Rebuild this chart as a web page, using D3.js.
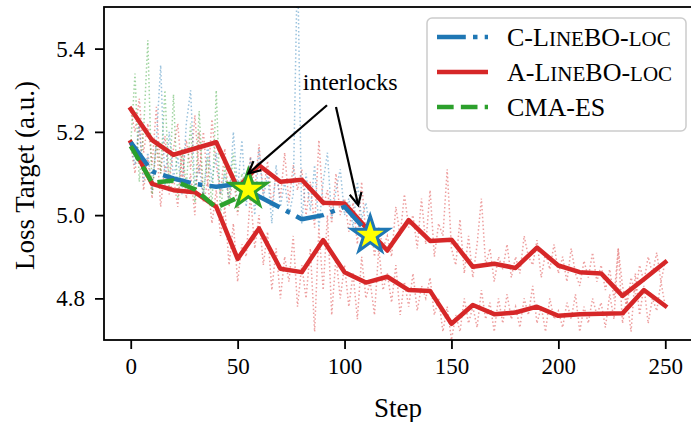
<!DOCTYPE html>
<html>
<head>
<meta charset="utf-8">
<script src="https://cdn.jsdelivr.net/npm/d3@7"></script>
<style>
  body { margin: 0; background: #fff; }
  text { font-family: 'Liberation Serif', 'Times New Roman', serif; fill: #000; }
</style>
</head>
<body>
<div id="chart"></div>
<script>
'use strict'

var width = 691
var height = 422

// ---- data ----
// thick lines, one point every 10 steps
var redSteps = [0, 10, 20, 30, 40, 50, 60, 70, 80, 90, 100, 110, 120, 130, 140, 150, 160, 170, 180, 190, 200, 210, 220, 230, 240, 250]
var redUpper = [5.255, 5.18, 5.145, 5.16, 5.175, 5.065, 5.12, 5.08, 5.085, 5.03, 5.028, 4.97, 4.915, 4.988, 4.938, 4.941, 4.876, 4.883, 4.873, 4.922, 4.879, 4.863, 4.86, 4.806, 4.846, 4.887]
var redLower = [5.175, 5.075, 5.06, 5.055, 5.02, 4.895, 4.968, 4.871, 4.863, 4.94, 4.863, 4.838, 4.852, 4.82, 4.818, 4.739, 4.784, 4.762, 4.766, 4.78, 4.758, 4.762, 4.763, 4.764, 4.82, 4.782]
var blueSteps = [0, 10, 20, 30, 40, 50, 60, 70, 80, 90, 100, 112]
var blueVals = [5.175, 5.105, 5.088, 5.075, 5.068, 5.075, 5.045, 5.018, 4.99, 5.0, 5.02, 4.952]
var greenSteps = [0, 10, 20, 30, 40, 50, 55]
var greenVals = [5.166, 5.078, 5.083, 5.062, 5.018, 5.042, 5.062]

// raw (noisy) traces, one point every 2 steps
var greenRaw = [5.17, 5.34, 5.08, 5.20, 5.42, 5.05, 5.18, 5.10, 5.30, 5.06, 5.29, 5.04, 5.16, 5.07, 5.22, 5.03,
  5.25, 5.05, 5.14, 5.02, 5.30, 5.00, 5.12, 5.03, 5.15, 5.01, 5.10, 5.06]
var blueRaw = [5.17, 5.12, 5.22, 5.08, 5.15, 5.06, 5.18, 5.36, 5.07, 5.20, 5.09, 5.14, 5.05, 5.22, 5.30, 5.06,
  5.12, 5.04, 5.17, 5.08, 5.15, 5.05, 5.10, 5.03, 5.20, 5.06, 5.18, 5.02, 5.14, 5.00, 5.16, 5.04,
  5.10, 4.98, 5.12, 5.02, 5.08, 5.00, 5.05, 5.62, 4.98, 5.10, 5.01, 5.12, 4.97, 5.08, 5.15, 4.99,
  5.06, 5.11, 5.00, 5.04, 4.97, 5.08, 4.99, 5.03, 4.96]
var redRawUpper = [5.25, 5.20, 5.28, 5.15, 5.22, 5.12, 5.26, 5.10, 5.19, 5.08, 5.16,
  5.22, 5.09, 5.18, 5.11, 5.24, 5.10, 5.20, 5.07, 5.23, 5.12,
  5.05, 5.16, 5.02, 5.10, 5.00, 5.08, 5.04, 5.14, 5.06, 5.17,
  5.05, 5.13, 5.02, 5.10, 5.04, 5.15, 5.03, 5.12, 5.06, 5.11,
  5.00, 5.08, 4.97, 5.18, 5.02, 5.06, 4.98, 5.10, 5.00, 5.04,
  4.96, 5.03, 4.93, 5.08, 4.95, 5.00, 4.90, 4.97, 4.92, 4.95,
  4.90, 5.02, 4.95, 5.05, 4.97, 5.00, 4.92, 5.04, 4.93, 5.06,
  4.90, 4.98, 4.95, 5.11, 4.92, 4.88, 4.99, 4.86, 4.95, 4.85,
  4.93, 5.04, 4.88, 4.92, 4.84, 4.90, 4.87, 4.93, 4.85, 4.90,
  4.86, 4.95, 4.90, 4.88, 4.94, 4.85, 4.91, 4.87, 4.93, 4.86,
  4.90, 4.84, 4.92, 4.86, 4.83, 4.89, 4.85, 4.91, 4.84, 4.88,
  4.82, 4.87, 4.80, 4.92, 4.83, 4.78, 4.85, 4.81, 4.88, 4.84,
  4.90, 4.86, 4.91, 4.84, 4.89]
var redRawLower = [5.17, 5.10, 5.22, 5.06, 5.14, 5.04, 5.18, 5.02, 5.12, 5.05, 5.09,
  5.02, 5.15, 5.04, 5.10, 5.00, 5.20, 5.03, 5.08, 4.98, 5.06,
  4.95, 5.02, 4.88, 4.98, 4.84, 4.93, 4.90, 5.05, 4.92, 5.00,
  4.88, 4.96, 4.82, 4.92, 4.80, 4.90, 4.84, 4.95, 4.78, 4.88,
  4.80, 4.92, 4.72, 4.97, 4.82, 5.00, 4.76, 4.90, 4.80, 4.88,
  4.78, 4.86, 4.75, 4.90, 4.80, 4.84, 4.76, 4.92, 4.82, 4.86,
  4.79, 4.88, 4.76, 4.84, 4.78, 4.86, 4.77, 4.83, 4.80, 4.85,
  4.76, 4.80, 4.72, 4.78, 4.70, 4.76, 4.72, 4.80, 4.74, 4.78,
  4.73, 4.82, 4.75, 4.79, 4.72, 4.80, 4.74, 4.81, 4.75, 4.78,
  4.73, 4.80, 4.76, 4.83, 4.74, 4.78, 4.72, 4.80, 4.75, 4.77,
  4.73, 4.79, 4.75, 4.81, 4.72, 4.78, 4.74, 4.80, 4.76, 4.79,
  4.73, 4.81, 4.75, 4.92, 4.74, 4.80, 4.72, 4.86, 4.76, 4.83,
  4.74, 4.80, 4.77, 4.84, 4.78]

var xTicks = [0, 50, 100, 150, 200, 250]
var yTicks = [4.8, 5.0, 5.2, 5.4]
// legend labels, split into [text, small-caps?] pieces
var legendLabels = [
  [['C-L', false], ['ine', true], ['BO-', false], ['loc', true]],
  [['A-L', false], ['ine', true], ['BO-', false], ['loc', true]],
  [['CMA-ES', false]]
]

var colors = { blue: '#1f77b4', red: '#d62728', green: '#2ca02c' }

// ---- scales ----
var x = d3.scaleLinear().domain([-12.5, 262.5]).range([104, 692])
var y = d3.scaleLinear().domain([4.7, 5.5]).range([340, 7])

var svg = d3.select('#chart').append('svg')
  .attr('width', width)
  .attr('height', height)

svg.append('defs').append('clipPath').attr('id', 'plotclip')
  .append('rect')
  .attr('x', x.range()[0]).attr('y', y.range()[1])
  .attr('width', x.range()[1] - x.range()[0])
  .attr('height', y.range()[0] - y.range()[1])

var plot = svg.append('g').attr('clip-path', 'url(#plotclip)')

var line = d3.line().x(d => x(d[0])).y(d => y(d[1]))
function pairs (steps, vals) { return vals.map((v, i) => [steps[i], v]) }
function rawPairs (vals) { return vals.map((v, i) => [i * 2, v]) }

// noisy dotted traces
var raws = [
  [redRawUpper, colors.red],
  [redRawLower, colors.red],
  [blueRaw, colors.blue],
  [greenRaw, colors.green]
]
raws.forEach(r => {
  plot.append('path')
    .attr('d', line(rawPairs(r[0])))
    .attr('fill', 'none')
    .attr('stroke', r[1])
    .attr('stroke-width', 1.5)
    .attr('stroke-dasharray', '1.5,2.4')
    .attr('opacity', 0.45)
})

// thick lines
var lw = 4.5
var styles = {
  blue: { dash: [6.4 * lw, 1.6 * lw, 1 * lw, 1.6 * lw].join(','), cap: 'butt' },
  red: { dash: null, cap: 'square' },
  green: { dash: [3.7 * lw, 1.6 * lw].join(','), cap: 'butt' }
}
function thick (data, key) {
  plot.append('path')
    .attr('d', line(data))
    .attr('fill', 'none')
    .attr('stroke', colors[key])
    .attr('stroke-width', lw)
    .attr('stroke-linejoin', 'round')
    .attr('stroke-linecap', styles[key].cap)
    .attr('stroke-dasharray', styles[key].dash)
}
thick(pairs(redSteps, redUpper), 'red')
thick(pairs(redSteps, redLower), 'red')
thick(pairs(blueSteps, blueVals), 'blue')
thick(pairs(greenSteps, greenVals), 'green')

// stars at the interlock points
var star = d3.symbol().type(d3.symbolStar).size(420)
var stars = [
  [greenSteps[greenSteps.length - 1], greenVals[greenVals.length - 1], colors.green],
  [blueSteps[blueSteps.length - 1], blueVals[blueVals.length - 1], colors.blue]
]
stars.forEach(s => {
  svg.append('path')
    .attr('d', star())
    .attr('transform', 'translate(' + x(s[0]) + ',' + y(s[1]) + ')')
    .attr('fill', '#ffff00')
    .attr('stroke', s[2])
    .attr('stroke-width', 3)
    .attr('stroke-linejoin', 'miter')
})

// ---- axes ----
var xAxis = svg.append('g')
  .attr('transform', 'translate(0,340)')
  .call(d3.axisBottom(x).tickValues(xTicks).tickSize(9).tickPadding(9).tickSizeOuter(0))
var yAxis = svg.append('g')
  .attr('transform', 'translate(104,0)')
  .call(d3.axisLeft(y).tickValues(yTicks).tickFormat(d3.format('.1f')).tickSize(9).tickPadding(10).tickSizeOuter(0))
;[xAxis, yAxis].forEach(a => {
  a.select('.domain').remove()
  a.selectAll('.tick line').attr('stroke', '#000').attr('stroke-width', 1.8)
  a.selectAll('.tick text')
    .style('font-family', "'Liberation Serif', serif")
    .style('font-size', '23px')
    .attr('fill', '#000')
})

// frame
svg.append('rect')
  .attr('x', x.range()[0]).attr('y', y.range()[1])
  .attr('width', x.range()[1] - x.range()[0])
  .attr('height', y.range()[0] - y.range()[1])
  .attr('fill', 'none')
  .attr('stroke', '#000')
  .attr('stroke-width', 1.8)

svg.append('text')
  .attr('x', (x.range()[0] + x.range()[1]) / 2)
  .attr('y', 417)
  .attr('text-anchor', 'middle')
  .style('font-size', '27px')
  .text('Step')

svg.append('text')
  .attr('transform', 'translate(34,' + ((y.range()[0] + y.range()[1]) / 2 + 2) + ') rotate(-90)')
  .attr('text-anchor', 'middle')
  .style('font-size', '27px')
  .text('Loss Target (a.u.)')

// ---- annotation ----
svg.append('text')
  .attr('x', x(80.5))
  .attr('y', y(5.30))
  .style('font-size', '24px')
  .text('interlocks')

var arrows = [
  [[91.8, 5.264], [55, 5.10]],
  [[96, 5.26], [106.4, 5.024]]
]
arrows.forEach(a => {
  var x0 = x(a[0][0]), y0 = y(a[0][1])
  var x1 = x(a[1][0]), y1 = y(a[1][1])
  var ang = Math.atan2(y1 - y0, x1 - x0)
  var hl = 12, hw = 6
  var bx = x1 - hl * Math.cos(ang), by = y1 - hl * Math.sin(ang)
  var px = -Math.sin(ang) * hw, py = Math.cos(ang) * hw
  var g = svg.append('g').attr('stroke', '#000').attr('stroke-width', 2.2).attr('fill', 'none')
  g.append('line').attr('x1', x0).attr('y1', y0).attr('x2', x1).attr('y2', y1)
  g.append('path')
    .attr('d', 'M' + (bx + px) + ',' + (by + py) + 'L' + x1 + ',' + y1 + 'L' + (bx - px) + ',' + (by - py))
    .attr('stroke-linejoin', 'miter')
})

// ---- legend ----
var legend = svg.append('g').attr('transform', 'translate(427,18)')
legend.append('rect')
  .attr('width', 259).attr('height', 113)
  .attr('rx', 5)
  .attr('fill', '#fff').attr('fill-opacity', 0.8)
  .attr('stroke', '#cccccc').attr('stroke-width', 1.5)
var legendKeys = ['blue', 'red', 'green']
legendKeys.forEach((k, i) => {
  var ly = 19 + i * 35
  legend.append('line')
    .attr('x1', 10).attr('x2', 61)
    .attr('y1', ly).attr('y2', ly)
    .attr('stroke', colors[k])
    .attr('stroke-width', lw)
    .attr('stroke-linecap', 'butt')
    .attr('stroke-dasharray', styles[k].dash)
  var t = legend.append('text')
    .attr('x', 80)
    .attr('y', ly + 9)
    .style('font-size', '26px')
  legendLabels[i].forEach(p => {
    t.append('tspan')
      .style('font-size', p[1] ? '21px' : '26px')
      .text(p[1] ? p[0].toUpperCase() : p[0])
  })
})
</script>
</body>
</html>
